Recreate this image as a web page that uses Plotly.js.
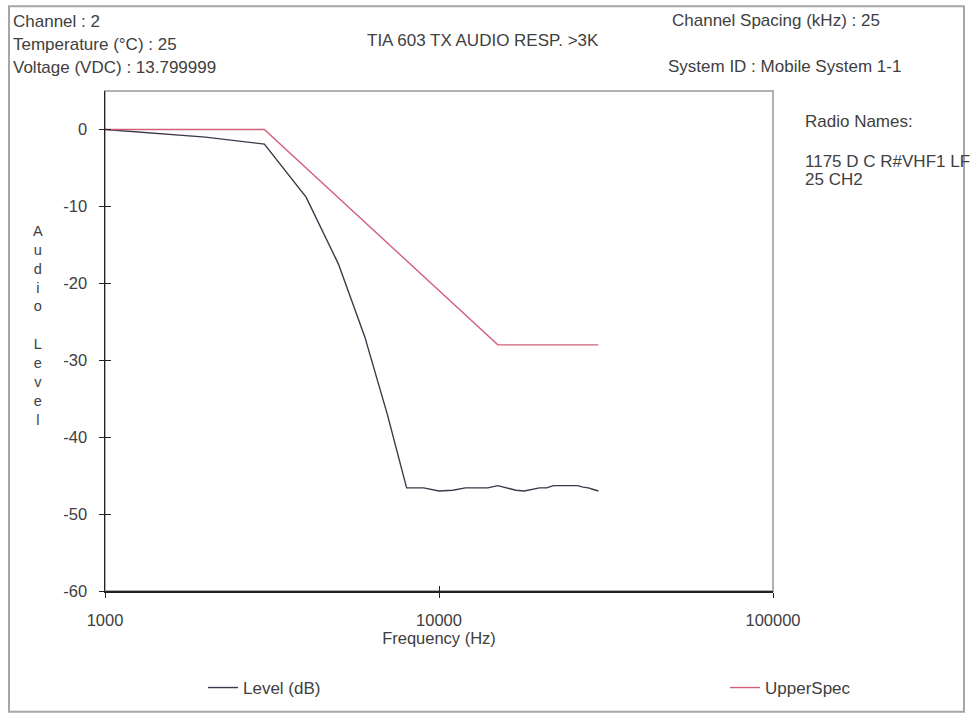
<!DOCTYPE html>
<html>
<head>
<meta charset="utf-8">
<script src="https://cdn.plot.ly/plotly-3.0.1.min.js"></script>
<style>html,body{margin:0;padding:0;background:#fff;}#chart{width:976px;height:717px;}</style>
</head>
<body>
<div id="chart"></div>
<script>
// Data
const levelFreq = [1000, 2000, 3000, 4000, 5000, 6000, 7000, 8000, 9000, 10000, 11000, 12000, 13000, 14000, 15000, 16000, 17000, 18000, 19000, 20000, 21000, 22000, 23000, 24000, 25000, 26000, 27000, 28000, 29000, 30000];
const levelDb = [0, -1.0, -1.9, -8.8, -17.5, -27.0, -37.0, -46.6, -46.6, -47.0, -46.9, -46.6, -46.6, -46.6, -46.3, -46.6, -46.9, -47.0, -46.8, -46.6, -46.6, -46.3, -46.3, -46.3, -46.3, -46.3, -46.5, -46.6, -46.8, -47.0];
const specFreq = [1000, 3000, 15000, 30000];
const specDb = [0, 0, -28, -28];
const xTickVals = [1000, 10000, 100000];
const xTickText = ['1000', '10000', '100000'];
const yTickVals = [0, -10, -20, -30, -40, -50, -60];
const yTickText = ['0', '-10', '-20', '-30', '-40', '-50', '-60'];
const seriesNames = ['Level (dB)', 'UpperSpec'];

const FONT = '"Liberation Sans", Arial, sans-serif';
const TXT = '#404040';
const HS = 17;   // header text size
const TS = 16.5; // tick label size
// pixel -> paper helpers (plot area 105..773 x, 91..592 y)
const px = v => (v - 105) / 668;
const py = v => (592 - v) / 501;

const traces = [
  {x: levelFreq, y: levelDb, type: 'scatter', mode: 'lines', name: seriesNames[0],
   line: {color: '#3a3a4a', width: 1.4}, legend: 'legend'},
  {x: specFreq, y: specDb, type: 'scatter', mode: 'lines', name: seriesNames[1],
   line: {color: '#d2607a', width: 1.4}, legend: 'legend2'},
  // empty helper trace so the overlay axes (inner half of the crossing ticks) are drawn
  {x: [], y: [], type: 'scatter', mode: 'lines', xaxis: 'x2', yaxis: 'y2', showlegend: false, hoverinfo: 'skip'}
];

function ann(text, x, y, xanchor, size) {
  return {text: text, xref: 'paper', yref: 'paper', x: px(x), y: py(y), xanchor: xanchor || 'left',
          yanchor: 'middle', showarrow: false, font: {family: FONT, size: size || HS, color: TXT}};
}

const annotations = [
  ann('Channel : 2', 11, 21),
  ann('Temperature (°C) : 25', 11, 44),
  ann('Voltage (VDC) : 13.799999', 11, 67),
  ann('TIA 603 TX AUDIO RESP. >3K', 365, 40),
  ann('Channel Spacing (kHz) : 25', 670, 20),
  ann('System ID : Mobile System 1-1', 666, 66),
  ann('Radio Names:', 803, 122),
  ann('1175 D C R#VHF1 LF', 803, 162),
  ann('25 CH2', 803, 180),
  {text: 'A<br>u<br>d<br>i<br>o<br> <br>L<br>e<br>v<br>e<br>l', xref: 'paper', yref: 'paper',
   x: px(38), y: py(326), xanchor: 'center', yanchor: 'middle', showarrow: false, align: 'center',
   font: {family: FONT, size: 14.5, color: TXT}}
];

const shapes = [
  {type: 'rect', xref: 'paper', yref: 'paper', x0: px(9), x1: px(964), y0: py(713), y1: py(6),
   line: {color: '#a6a6a6', width: 2}, layer: 'below'},
  {type: 'rect', xref: 'paper', yref: 'paper', x0: 0, x1: 1, y0: 0, y1: 1,
   line: {color: '#b0b0b0', width: 2}, layer: 'below'}
];

const layout = {
  width: 976, height: 717,
  margin: {l: 105, r: 203, t: 91, b: 125, pad: 0},
  paper_bgcolor: '#ffffff', plot_bgcolor: '#ffffff',
  font: {family: FONT, size: TS, color: TXT},
  xaxis: {type: 'log', range: [3, 5], tickvals: xTickVals, ticktext: xTickText,
          showgrid: false, zeroline: false, showline: true, linecolor: '#222', linewidth: 1.5,
          ticks: 'outside', ticklen: 5, tickcolor: '#222', ticklabelstandoff: 9,
          tickfont: {family: FONT, size: TS, color: TXT},
          title: {text: 'Frequency (Hz)', font: {family: FONT, size: TS, color: TXT}, standoff: 4}},
  xaxis2: {type: 'log', overlaying: 'x', matches: 'x', anchor: 'y2', side: 'bottom', range: [3, 5],
           tickvals: xTickVals, showticklabels: false, showgrid: false, zeroline: false,
           showline: false, ticks: 'inside', ticklen: 5, tickcolor: '#222'},
  yaxis: {range: [-60, 5], tickvals: yTickVals, ticktext: yTickText,
          showgrid: false, zeroline: false, showline: true, linecolor: '#222', linewidth: 1.5,
          ticks: 'outside', ticklen: 5, tickcolor: '#222', ticklabelstandoff: 8,
          tickfont: {family: FONT, size: TS, color: TXT}},
  yaxis2: {overlaying: 'y', matches: 'y', anchor: 'x2', side: 'left', range: [-60, 5],
           tickvals: yTickVals, showticklabels: false, showgrid: false, zeroline: false,
           showline: false, ticks: 'inside', ticklen: 6, tickcolor: '#222'},
  showlegend: true,
  legend: {orientation: 'h', x: px(203), y: py(688), xanchor: 'left', yanchor: 'middle',
           bgcolor: 'rgba(0,0,0,0)', font: {family: FONT, size: HS, color: TXT}},
  legend2: {orientation: 'h', x: px(725), y: py(688), xanchor: 'left', yanchor: 'middle',
            bgcolor: 'rgba(0,0,0,0)', font: {family: FONT, size: HS, color: TXT}},
  annotations: annotations,
  shapes: shapes
};

Plotly.newPlot('chart', traces, layout, {displayModeBar: false, staticPlot: true});
</script>
</body>
</html>
